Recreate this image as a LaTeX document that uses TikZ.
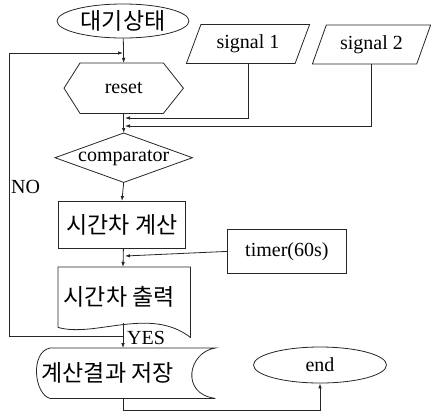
\documentclass[tikz,border=0pt]{standalone}
\usepackage{fontspec}
\setmainfont{Liberation Serif}
\newfontfamily\kr{Noto Sans CJK KR}
\usetikzlibrary{shapes.geometric,arrows.meta}
\begin{document}
\begin{tikzpicture}[x=1pt,y=-1pt,
  ln/.style={draw=black!85,line width=0.8pt},
  arr/.style={ln,-{Latex[length=5pt,width=3.6pt]}},
  box/.style={rectangle,inner sep=0pt,anchor=north west},
  lat/.style={font=\fontsize{20}{21}\selectfont},
  han/.style={font=\kr\fontsize{23}{24}\selectfont},
  para/.style={trapezium,trapezium left angle=62,trapezium right angle=118,trapezium stretches=true,ln,inner sep=0pt,minimum height=39pt,lat}]
\useasboundingbox (0,0) rectangle (431,416);
% start
\node[ellipse,ln,minimum width=132pt,minimum height=34pt,inner sep=0pt,han] (start) at (123,21) {대기상태};
% reset hexagon
\node[box,minimum width=119pt,minimum height=50pt,lat] (reset) at (64,63) {reset};
\draw[ln] (reset.west) -- ([xshift=16pt]reset.north west) -- ([xshift=-20pt]reset.north east) -- (reset.east) -- ([xshift=-20pt]reset.south east) -- ([xshift=16pt]reset.south west) -- cycle;
% signals
\node[para,minimum width=124pt] (sig1) at (248,44) {signal 1};
\node[para,minimum width=119pt] (sig2) at (371.5,44.5) {signal 2};
% comparator
\node[box,minimum width=137pt,minimum height=49pt,lat] (comp) at (55,133) {comparator};
\draw[ln] (comp.north) -- (comp.east) -- (comp.south) -- (comp.west) -- cycle;
% calc box
\node[box,ln,minimum width=127pt,minimum height=47pt,han] (calc) at (58,201) {시간차 계산};
% timer
\node[box,ln,minimum width=119pt,minimum height=44pt,lat] (timer) at (227,229) {timer(60s)};
% output document
\node[box,minimum width=132pt,minimum height=60pt,han] (out) at (58,267) {\hspace*{-10pt}시간차 출력};
\coordinate (outb) at (123,323);
\draw[ln] (out.south west) -- (out.north west) -- (out.north east) -- ([yshift=-10pt]out.south east)
  .. controls (150,306) and (95,338) .. (out.south west);
% store
\node[box,minimum width=179pt,minimum height=50pt,han] (store) at (36,348) {\hspace*{-36pt}계산결과 저장};
\draw[ln] ([xshift=14pt]store.north west) -- (store.north east)
  .. controls (188,352) and (180,394) .. (store.south east)
  -- ([xshift=14pt]store.south west)
  .. controls (34,394) and (30,352) .. ([xshift=14pt]store.north west);
% end
\node[ellipse,ln,minimum width=133pt,minimum height=36pt,inner sep=0pt,lat] (end) at (320,365) {end};
% junction coordinates
\coordinate (jtop) at (123,53);
\coordinate (nol) at (9,53);
\coordinate (nob) at (9,336);
\coordinate (jno) at (123,336);
\coordinate (j1) at (125,118);
\coordinate (j2) at (125,126);
\coordinate (jt) at (125,256);
\coordinate (bot) at (123,410);
% connectors
\draw[arr] (start) -- (reset.north);
\draw[arr] (jno) -- (nob) -- (nol) -- (jtop);
\draw[arr] (sig1.south) |- (j1);
\draw[arr] (sig2.south) |- (j2);
\draw[arr] (reset.south) -- (comp.north);
\draw[arr] (comp.south) -- (calc.north);
\draw[arr] ([xshift=1.5pt]calc.south) -- (123,267);
\draw[arr] (timer.west) -- (jt);
\draw[arr] (outb) -- (store.north -| outb);
\draw[arr] (store.south -| bot) -- (bot) -| (end.south);
% labels
\node[lat,anchor=west,inner sep=0pt] (yes) at (127,338) {YES};
\node[lat,anchor=west,inner sep=0pt] (no) at (11,187) {NO};
\end{tikzpicture}
\end{document}
